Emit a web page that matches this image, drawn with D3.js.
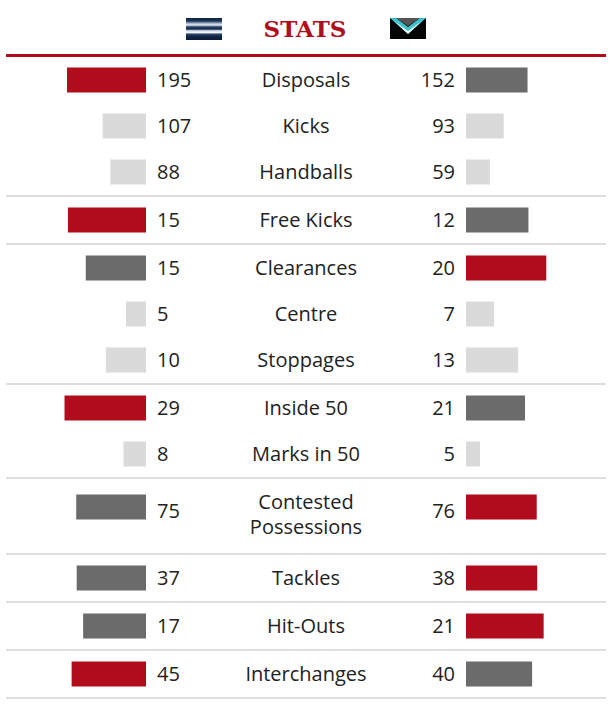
<!DOCTYPE html>
<html>
<head>
<meta charset="utf-8">
<script src="https://cdn.jsdelivr.net/npm/d3@7"></script>
<style>
  html, body { margin: 0; padding: 0; background: #fff; }
  svg { display: block; }
</style>
</head>
<body>
<svg id="chart" width="616" height="706"></svg>
<script>
// ---- data ----
const categories = ["Disposals", "Kicks", "Handballs", "Free Kicks", "Clearances", "Centre", "Stoppages",
  "Inside 50", "Marks in 50", "Contested Possessions", "Tackles", "Hit-Outs", "Interchanges"];
const homeValues = [195, 107, 88, 15, 15, 5, 10, 29, 8, 75, 37, 17, 45];
const awayValues = [152, 93, 59, 12, 20, 7, 13, 21, 5, 76, 38, 21, 40];
// index of the main stat that each row belongs to (sub-stats share its scale)
const parentIndex = [0, 0, 0, 3, 4, 4, 4, 7, 7, 9, 10, 11, 12];
const title = "STATS";

// ---- layout / style ----
const centerX = 306;
const leftBarEnd = 146, rightBarStart = 466, barSpan = 140.5, barH = 25;
const leftValX = 157, rightValX = 455;
const RED = "#b00c1b", DARK = "#6b6b6b", LIGHT = "#dadada", SEP = "#dedede", TEXT = "#222";
const FONT = "'Open Sans', sans-serif";

const svg = d3.select("#chart");

// header
svg.append("text")
  .attr("x", 305).attr("y", 37)
  .attr("text-anchor", "middle")
  .attr("font-family", "'DejaVu Serif', serif")
  .attr("font-weight", "bold")
  .attr("font-size", 23)
  .attr("fill", RED)
  .text(title);

// home icon (hooped stripes)
const hi = svg.append("g").attr("transform", "translate(186,18)");
const stripeG = hi.append("defs").append("linearGradient")
  .attr("id", "hoops").attr("x1", 0).attr("y1", 0).attr("x2", 0).attr("y2", 1);
[[0, "#0f2545"], [0.14, "#1c3658"], [0.24, "#9fb2c8"], [0.32, "#e6eef5"], [0.40, "#31476a"],
 [0.50, "#0f2545"], [0.58, "#d8e2ec"], [0.66, "#f2f5f8"], [0.74, "#2c4266"], [0.84, "#0f2545"], [1, "#0b1d38"]]
  .forEach(([o, c]) => stripeG.append("stop").attr("offset", o).attr("stop-color", c));
hi.append("rect").attr("width", 36).attr("height", 22).attr("fill", "url(#hoops)");

// away icon (chevron)
const ai = svg.append("g").attr("transform", "translate(390,18)");
ai.append("rect").attr("width", 36).attr("height", 21).attr("fill", "#050505");
ai.append("polygon").attr("points", "6,0 18,8 30,0").attr("fill", "#555");
ai.append("polygon").attr("points", "0,0 6,0 18,9 30,0 36,0 18,16").attr("fill", "#3cc3cc");
ai.append("polygon").attr("points", "4,3 18,13 32,3 18,16").attr("fill", "#e9fbfc");
ai.append("polygon").attr("points", "2,6 18,17 34,6 34,9 18,21 2,9").attr("fill", "#050505");

// red rule under header
svg.append("rect").attr("x", 6).attr("y", 54).attr("width", 600).attr("height", 3).attr("fill", RED);

// build rows
const rows = categories.map((c, i) => ({
  name: c, home: homeValues[i], away: awayValues[i], parent: parentIndex[i], i
}));

let y = 57;
rows.forEach((r, idx) => {
  const isMain = r.parent === r.i;
  const pTotal = homeValues[r.parent] + awayValues[r.parent];
  const x = d3.scaleLinear().domain([0, pTotal]).range([0, barSpan]);

  const g = svg.append("g");
  // label (wrap if too long)
  const label = g.append("text")
    .attr("x", centerX).attr("text-anchor", "middle")
    .attr("font-family", FONT).attr("font-size", 20).attr("fill", TEXT)
    .text(r.name);
  let twoLine = false;
  if (label.node().getComputedTextLength() > 150) {
    twoLine = true;
    const words = r.name.split(" ");
    label.text(null);
    words.forEach((w, k) => label.append("tspan").attr("x", centerX).attr("dy", k === 0 ? 0 : 25).text(w));
  }
  const rowH = twoLine ? 74 : 46;
  const barC = y + (twoLine ? 28 : 23);
  const valC = y + (twoLine ? 32 : 23);
  label.attr("y", y + 23 + 7);

  let hc, ac;
  if (!isMain) { hc = LIGHT; ac = LIGHT; }
  else if (r.home > r.away) { hc = RED; ac = DARK; }
  else if (r.away > r.home) { hc = DARK; ac = RED; }
  else { hc = DARK; ac = DARK; }

  g.append("rect")
    .attr("x", leftBarEnd - x(r.home)).attr("y", barC - barH / 2)
    .attr("width", x(r.home)).attr("height", barH).attr("fill", hc);
  g.append("rect")
    .attr("x", rightBarStart).attr("y", barC - barH / 2)
    .attr("width", x(r.away)).attr("height", barH).attr("fill", ac);

  g.append("text").attr("x", leftValX).attr("y", valC + 7)
    .attr("font-family", FONT).attr("font-size", 20).attr("fill", TEXT)
    .text(r.home);
  g.append("text").attr("x", rightValX).attr("y", valC + 7).attr("text-anchor", "end")
    .attr("font-family", FONT).attr("font-size", 20).attr("fill", TEXT)
    .text(r.away);

  y += rowH;
  const next = rows[idx + 1];
  if (!next || next.parent === next.i) {
    svg.append("rect").attr("x", 6).attr("y", y).attr("width", 600).attr("height", 2).attr("fill", SEP);
    y += 2;
  }
});
</script>
</body>
</html>
